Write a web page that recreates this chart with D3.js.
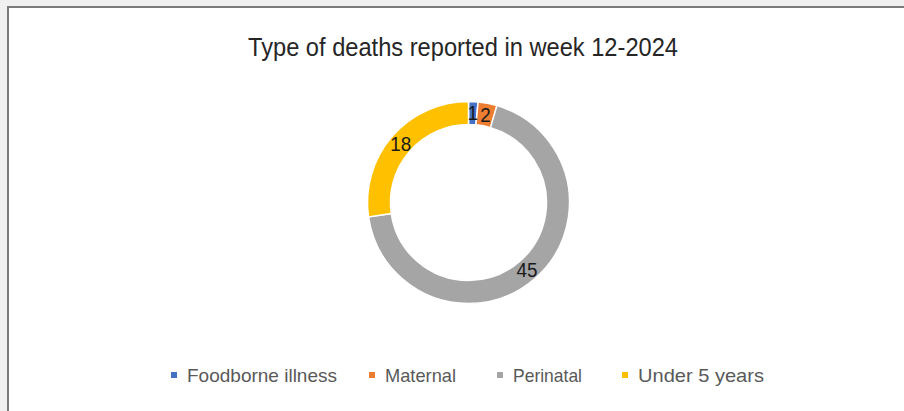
<!DOCTYPE html>
<html>
<head>
<meta charset="utf-8">
<script src="https://cdn.jsdelivr.net/npm/d3@7"></script>
<style>
html,body{margin:0;padding:0;background:#f0f0f0;}
svg{display:block;}
</style>
</head>
<body>
<svg id="chart" width="904" height="411"></svg>
<script>
const categories = ["Foodborne illness", "Maternal", "Perinatal", "Under 5 years"];
const values = [1, 2, 45, 18];
const colors = ["#4472C4", "#ED7D31", "#A5A5A5", "#FFC000"];
const titleText = "Type of deaths reported in week 12-2024";

const svg = d3.select("#chart");
const W = 904, H = 411;
const font = "'Liberation Sans Narrow','Arial Narrow','Liberation Sans',Arial,sans-serif";

// chart area
svg.append("rect").attr("x", 7).attr("y", 6).attr("width", W - 7).attr("height", H - 6).attr("fill", "#ffffff");
svg.append("line").attr("x1", 7).attr("x2", W).attr("y1", 7).attr("y2", 7).attr("stroke", "#7a7a7a").attr("stroke-width", 2);
svg.append("line").attr("x1", 8).attr("x2", 8).attr("y1", 6).attr("y2", H).attr("stroke", "#7a7a7a").attr("stroke-width", 2);

// title
svg.append("text").attr("x", 248).attr("y", 56)
  .attr("font-family", font).attr("font-size", 25).attr("fill", "#262626")
  .attr("textLength", 430).attr("lengthAdjust", "spacingAndGlyphs")
  .text(titleText);

// donut
const cx = 468.5, cy = 202.5, rOuter = 101, rInner = 78;
const pie = d3.pie().sort(null).value(d => d);
const arcs = pie(values);
const arc = d3.arc().innerRadius(rInner).outerRadius(rOuter);
const g = svg.append("g").attr("transform", `translate(${cx},${cy})`);
g.selectAll("path").data(arcs).enter().append("path")
  .attr("d", arc)
  .attr("fill", (d, i) => colors[i])
  .attr("stroke", "#ffffff").attr("stroke-width", 1.5);

const labelArc = d3.arc().innerRadius((rInner + rOuter) / 2).outerRadius((rInner + rOuter) / 2);
g.selectAll("text.lbl").data(arcs).enter().append("text")
  .attr("class", "lbl")
  .attr("transform", d => `translate(${labelArc.centroid(d)})`)
  .attr("text-anchor", "middle").attr("dy", "0.36em")
  .attr("font-family", font).attr("font-size", 20).attr("fill", "#1a1a1a")
  .attr("textLength", d => String(d.data).length * 10.5).attr("lengthAdjust", "spacingAndGlyphs")
  .text(d => d.data);

// legend
const legendSquareX = [171, 369, 497, 622];
const legendTextLen = [150, 71, 69, 126];
const lg = svg.append("g");
categories.forEach((c, i) => {
  lg.append("rect").attr("x", legendSquareX[i]).attr("y", 372).attr("width", 6).attr("height", 6).attr("fill", colors[i]);
  lg.append("text").attr("x", legendSquareX[i] + 16).attr("y", 382)
    .attr("font-family", font).attr("font-size", 19).attr("fill", "#595959")
    .attr("textLength", legendTextLen[i]).attr("lengthAdjust", "spacingAndGlyphs")
    .text(c);
});
</script>
</body>
</html>
